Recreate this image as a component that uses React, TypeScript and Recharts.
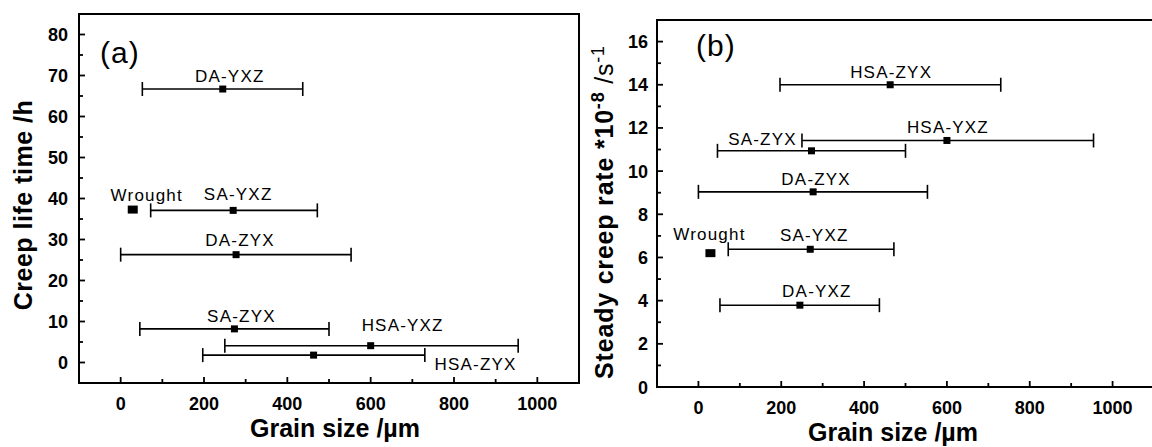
import { ScatterChart, Scatter, XAxis, YAxis, ErrorBar, ReferenceArea } from 'recharts'

// grain size of each build / heat-treatment condition (µm), mean with min and max
const conditions = ['DA-YXZ', 'Wrought', 'SA-YXZ', 'DA-ZYX', 'SA-ZYX', 'HSA-YXZ', 'HSA-ZYX']
const grainMean = [245, 29, 270, 277, 273, 600, 463]
const grainMin = [52, 29, 72, 0, 46, 250, 197]
const grainMax = [437, 29, 472, 553, 500, 954, 730]

// creep results
const creepLife = [66.7, 37.3, 37.1, 26.3, 8.2, 4.1, 1.8] // h
const creepRate = [3.79, 6.2, 6.38, 9.04, 10.94, 11.42, 14.0] // *10^-8 /s

const grainTicks = [0, 100, 200, 300, 400, 500, 600, 700, 800, 900, 1000]
const lifeTicks = [0, 5, 10, 15, 20, 25, 30, 35, 40, 45, 50, 55, 60, 65, 70, 75, 80]
const rateTicks = [0, 1, 2, 3, 4, 5, 6, 7, 8, 9, 10, 11, 12, 13, 14, 15, 16]

const FONT = '"Liberation Sans", Arial, sans-serif'

// where each condition name sits relative to its marker
const lifeLabelPos: Record<string, [number, number]> = {
  'DA-YXZ': [7, -7],
  Wrought: [14, -9],
  'SA-YXZ': [5, -10],
  'DA-ZYX': [4, -9],
  'SA-ZYX': [7, -7],
  'HSA-YXZ': [32, -15],
  'HSA-ZYX': [162, 15],
}
const rateLabelPos: Record<string, [number, number]> = {
  'DA-YXZ': [17, -8],
  Wrought: [-1, -13],
  'SA-YXZ': [4, -8],
  'DA-ZYX': [3, -7],
  'SA-ZYX': [-49, -6],
  'HSA-YXZ': [1, -7],
  'HSA-ZYX': [1, -7],
}

// the wrought reference point is drawn as a slightly bigger block
const markerSize: Record<string, [number, number]> = { Wrought: [10, 8] }

// no error bar where there is no spread
const rows = (yValues: number[]) =>
  conditions.map((name, i) => ({
    name,
    grain: grainMean[i],
    y: yValues[i],
    err:
      grainMin[i] === grainMax[i]
        ? null
        : [grainMean[i] - grainMin[i], grainMax[i] - grainMean[i]],
  }))

const makeBottomTick = (step: number) => (props: any) => {
  const { x, y, payload } = props
  const major = payload.value % step === 0
  return (
    <g>
      <line x1={x} x2={x} y1={y} y2={y - (major ? 6 : 4)} stroke="#000" strokeWidth={1.8} />
      {major && (
        <text x={x} y={y + 27} textAnchor="middle" fontSize={18} fontWeight="bold" fontFamily={FONT} fill="#000">
          {payload.value}
        </text>
      )}
    </g>
  )
}

const makeLeftTick = (step: number, gap: number) => (props: any) => {
  const { x, y, payload } = props
  const major = payload.value % step === 0
  return (
    <g>
      <line x1={x} x2={x + (major ? 6 : 4)} y1={y} y2={y} stroke="#000" strokeWidth={1.8} />
      {major && (
        <text x={x - gap} y={y + 6.5} textAnchor="end" fontSize={18} fontWeight="bold" fontFamily={FONT} fill="#000">
          {payload.value}
        </text>
      )}
    </g>
  )
}

const makeMarker = (pos: Record<string, [number, number]>) => (props: any) => {
  const { cx, cy, payload } = props
  const [dx, dy] = pos[payload.name] ?? [0, -8]
  const [w, h] = markerSize[payload.name] ?? [7, 7]
  return (
    <g>
      <rect x={cx - w / 2} y={cy - h / 2} width={w} height={h} fill="#000" />
      <text x={cx + dx} y={cy + dy} textAnchor="middle" fontSize={17} letterSpacing={1.2} fontFamily={FONT} fill="#000">
        {payload.name}
      </text>
    </g>
  )
}

function Panel(props: {
  width: number
  margin: { top: number; right: number; left: number; bottom: number }
  yAxisWidth: number
  xAxisHeight: number
  yDomain: [number, number]
  yTicks: number[]
  yStep: number
  yGap: number
  values: number[]
  labelPos: Record<string, [number, number]>
}) {
  const { width, margin, yAxisWidth, xAxisHeight, yDomain, yTicks, yStep, yGap, values, labelPos } = props
  return (
    <ScatterChart width={width} height={447} margin={margin}>
      <XAxis
        type="number"
        dataKey="grain"
        domain={[-100, 1100]}
        ticks={grainTicks}
        allowDataOverflow
        axisLine={false}
        tickLine={false}
        tickSize={0}
        tickMargin={0}
        height={xAxisHeight}
        tick={makeBottomTick(200)}
        interval={0}
      />
      <YAxis
        type="number"
        dataKey="y"
        domain={yDomain}
        ticks={yTicks}
        allowDataOverflow
        axisLine={false}
        tickLine={false}
        tickSize={0}
        tickMargin={0}
        width={yAxisWidth}
        tick={makeLeftTick(yStep, yGap)}
        interval={0}
      />
      <ReferenceArea
        x1={-100}
        x2={1100}
        y1={yDomain[0]}
        y2={yDomain[1]}
        fill="none"
        stroke="#000"
        strokeWidth={2}
        ifOverflow="visible"
      />
      <Scatter data={rows(values)} shape={makeMarker(labelPos)} isAnimationActive={false}>
        <ErrorBar dataKey="err" direction="x" width={7} stroke="#000" strokeWidth={1.6} />
      </Scatter>
    </ScatterChart>
  )
}

export default function App() {
  return (
    <div
      style={{
        position: 'absolute',
        left: 0,
        top: 0,
        width: 1152,
        height: 447,
        overflow: 'hidden',
        background: '#fff',
      }}
    >
      <div style={{ position: 'absolute', left: 0, top: 0 }}>
        <Panel
          width={580}
          margin={{ top: 14, right: 1, left: 0, bottom: 0 }}
          yAxisWidth={79}
          xAxisHeight={64}
          yDomain={[-5, 85]}
          yTicks={lifeTicks}
          yStep={10}
          yGap={11}
          values={creepLife}
          labelPos={lifeLabelPos}
        />
      </div>
      <div style={{ position: 'absolute', left: 576, top: 0 }}>
        <Panel
          width={600}
          margin={{ top: 20, right: 22, left: 0, bottom: 0 }}
          yAxisWidth={81}
          xAxisHeight={60}
          yDomain={[0, 17]}
          yTicks={rateTicks}
          yStep={2}
          yGap={9}
          values={creepRate}
          labelPos={rateLabelPos}
        />
      </div>
      {/* panel tags and axis titles */}
      <svg
        width={1152}
        height={447}
        style={{ position: 'absolute', left: 0, top: 0, pointerEvents: 'none' }}
        fontFamily={FONT}
      >
        <text x={100} y={63} fontSize={30} letterSpacing={1}>(a)</text>
        <text x={696} y={56} fontSize={30} letterSpacing={1}>(b)</text>
        <text x={335} y={437} textAnchor="middle" fontSize={25} fontWeight="bold">
          Grain size /µm
        </text>
        <text x={893} y={441} textAnchor="middle" fontSize={25} fontWeight="bold">
          Grain size /µm
        </text>
        <text
          x={32}
          y={205}
          textAnchor="middle"
          fontSize={25}
          fontWeight="bold"
          letterSpacing={0.5}
          transform="rotate(-90 32 205)"
        >
          Creep life time /h
        </text>
        <text
          x={613}
          y={212}
          textAnchor="middle"
          fontSize={25}
          fontWeight="bold"
          letterSpacing={0.8}
          transform="rotate(-90 613 212)"
        >
          Steady creep rate *10
          <tspan dy={-9} fontSize={18}>-8</tspan>
          <tspan dy={9} fontWeight="normal"> /s</tspan>
          <tspan dy={-9} fontSize={18} fontWeight="normal">-1</tspan>
        </text>
      </svg>
    </div>
  )
}
